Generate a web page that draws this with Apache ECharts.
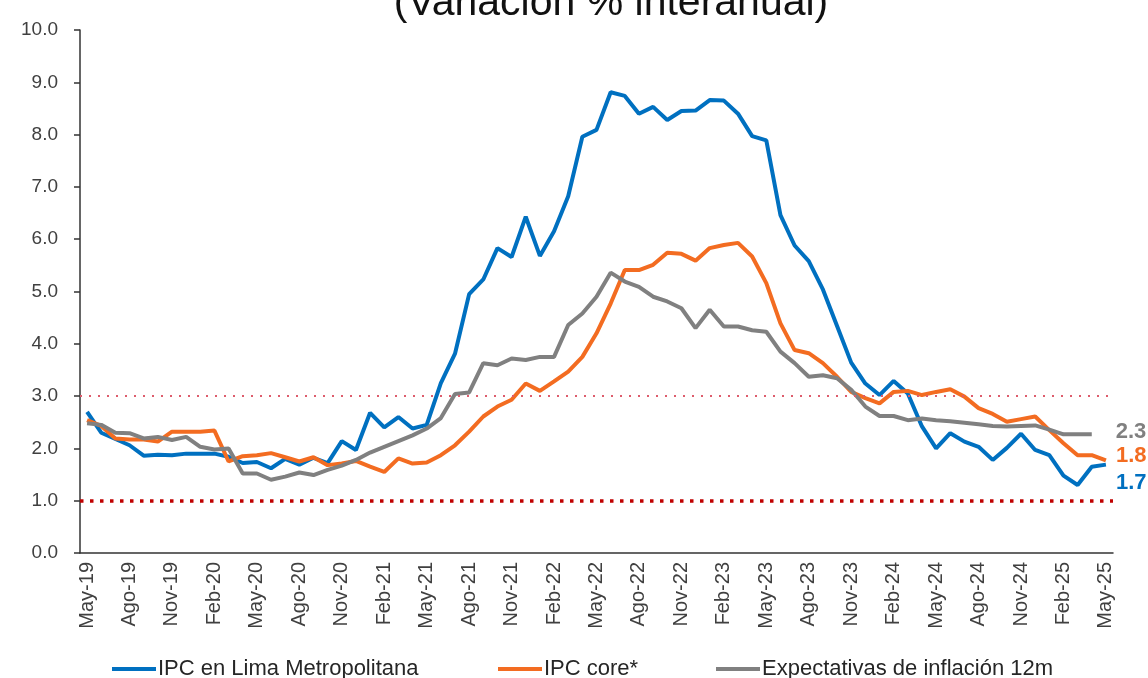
<!DOCTYPE html>
<html>
<head>
<meta charset="utf-8">
<script src="https://cdn.jsdelivr.net/npm/echarts@6/dist/echarts.min.js"></script>
<style>
  html, body { margin: 0; padding: 0; background: #fff; }
  #chart { width: 1148px; height: 678px; }
</style>
</head>
<body>
<div id="chart"></div>
<script>
// meses May-19 ... May-25
const meses = [
  "May-19", "Jun-19", "Jul-19", "Ago-19", "Set-19", "Oct-19", "Nov-19", "Dic-19",
  "Ene-20", "Feb-20", "Mar-20", "Abr-20", "May-20", "Jun-20", "Jul-20", "Ago-20", "Set-20", "Oct-20", "Nov-20", "Dic-20",
  "Ene-21", "Feb-21", "Mar-21", "Abr-21", "May-21", "Jun-21", "Jul-21", "Ago-21", "Set-21", "Oct-21", "Nov-21", "Dic-21",
  "Ene-22", "Feb-22", "Mar-22", "Abr-22", "May-22", "Jun-22", "Jul-22", "Ago-22", "Set-22", "Oct-22", "Nov-22", "Dic-22",
  "Ene-23", "Feb-23", "Mar-23", "Abr-23", "May-23", "Jun-23", "Jul-23", "Ago-23", "Set-23", "Oct-23", "Nov-23", "Dic-23",
  "Ene-24", "Feb-24", "Mar-24", "Abr-24", "May-24", "Jun-24", "Jul-24", "Ago-24", "Set-24", "Oct-24", "Nov-24", "Dic-24",
  "Ene-25", "Feb-25", "Mar-25", "Abr-25", "May-25"
];

const ipcLima = [
  2.70, 2.30, 2.18, 2.06, 1.86, 1.88, 1.87, 1.90,
  1.90, 1.90, 1.84, 1.72, 1.74, 1.62, 1.80, 1.69, 1.82, 1.72, 2.14, 1.97,
  2.68, 2.40, 2.60, 2.38, 2.45, 3.25, 3.81, 4.95, 5.23, 5.83, 5.66, 6.43,
  5.68, 6.15, 6.82, 7.96, 8.09, 8.81, 8.74, 8.40, 8.53, 8.28, 8.45, 8.46,
  8.66, 8.65, 8.40, 7.97, 7.89, 6.46, 5.88, 5.58, 5.04, 4.34, 3.64, 3.24,
  3.02, 3.29, 3.05, 2.42, 2.00, 2.29, 2.13, 2.03, 1.78, 2.01, 2.28, 1.97,
  1.87, 1.48, 1.30, 1.65, 1.69
];

const ipcCore = [
  2.54, 2.43, 2.19, 2.17, 2.17, 2.13, 2.32, 2.32,
  2.32, 2.34, 1.75, 1.85, 1.87, 1.91, 1.83, 1.75, 1.83, 1.68, 1.71, 1.76,
  1.65, 1.55, 1.81, 1.71, 1.73, 1.87, 2.06, 2.32, 2.61, 2.80, 2.93, 3.24,
  3.10, 3.28, 3.47, 3.75, 4.20, 4.77, 5.41, 5.41, 5.51, 5.74, 5.72, 5.59,
  5.83, 5.89, 5.93, 5.67, 5.16, 4.39, 3.88, 3.82, 3.63, 3.37, 3.08, 2.96,
  2.86, 3.08, 3.10, 3.02, 3.08, 3.13, 2.99, 2.77, 2.66, 2.51, 2.56, 2.61,
  2.35, 2.10, 1.87, 1.87, 1.77
];

const expectativas = [
  2.48, 2.45, 2.30, 2.29, 2.19, 2.22, 2.16, 2.22,
  2.03, 1.98, 2.00, 1.52, 1.52, 1.40, 1.46, 1.54, 1.49, 1.59, 1.67, 1.78,
  1.92, 2.03, 2.14, 2.25, 2.38, 2.58, 3.04, 3.07, 3.63, 3.59, 3.72, 3.69,
  3.75, 3.75, 4.36, 4.58, 4.90, 5.36, 5.19, 5.09, 4.90, 4.81, 4.68, 4.30,
  4.65, 4.33, 4.33, 4.26, 4.23, 3.85, 3.63, 3.37, 3.40, 3.34, 3.12, 2.80,
  2.62, 2.62, 2.54, 2.57, 2.54, 2.52, 2.49, 2.46, 2.43, 2.42, 2.43, 2.44,
  2.36, 2.27, 2.27, 2.27, null
];

// rango meta de inflación
const rangoMeta = [1, 3];

const nombres = ["IPC en Lima Metropolitana", "IPC core*", "Expectativas de inflación 12m"];
const colores = ["#0070C0", "#F36C21", "#808080"];

const chart = echarts.init(document.getElementById("chart"));

function serie(i, data, offset) {
  return {
    name: nombres[i],
    type: "line",
    data: data,
    symbol: "none",
    connectNulls: false,
    lineStyle: { color: colores[i], width: 4 },
    itemStyle: { color: colores[i] },
    endLabel: {
      show: true,
      offset: offset,
      color: colores[i],
      fontSize: 22,
      fontWeight: "bold",
      fontFamily: "Liberation Sans",
      formatter: (p) => Number(p.value).toFixed(1),
    },
  };
}

const series = [
  serie(0, ipcLima, [2, 18]),
  serie(1, ipcCore, [2, -4]),
  serie(2, expectativas, [16, -2]),
];

series[0].markLine = {
  silent: true,
  symbol: "none",
  label: { show: false },
  data: [
    { yAxis: rangoMeta[1], lineStyle: { color: "#DD5C6C", width: 2, type: [2, 7] } },
    { yAxis: rangoMeta[0], lineStyle: { color: "#C00000", width: 3.5, type: [3.5, 6.5] } },
  ],
};

function legenda(i, left) {
  return {
    data: [nombres[i]],
    left: left,
    top: 652,
    icon: "rect",
    itemWidth: 44,
    itemHeight: 4,
    itemGap: 0,
    textStyle: {
      fontSize: 22,
      lineHeight: 24,
      color: "#262626",
      fontFamily: "Liberation Sans",
      padding: [0, 0, 0, -3],
    },
  };
}

chart.setOption({
  animation: false,
  title: {
    text: "(Variación % interanual)",
    left: 606,
    top: -22,
    textAlign: "center",
    textStyle: {
      fontSize: 41,
      lineHeight: 41,
      fontWeight: "normal",
      color: "#111",
      fontFamily: "Liberation Sans",
    },
  },
  legend: [legenda(0, 107), legenda(1, 493), legenda(2, 711)],
  grid: {
    left: 80,
    right: 35,
    top: 30,
    bottom: 125,
  },
  xAxis: {
    type: "category",
    data: meses,
    boundaryGap: true,
    axisLine: { lineStyle: { color: "#333", width: 1.5 } },
    axisTick: { interval: 2, length: 6, lineStyle: { color: "#333", width: 1.5 } },
    axisLabel: {
      interval: 2,
      rotate: 90,
      margin: 9,
      fontSize: 20,
      color: "#404040",
      fontFamily: "Liberation Sans",
    },
  },
  yAxis: {
    type: "value",
    min: 0,
    max: 10,
    interval: 1,
    splitLine: { show: false },
    axisLine: { show: true, lineStyle: { color: "#333", width: 1.5 } },
    axisTick: { show: true, length: 6, lineStyle: { color: "#333", width: 1.5 } },
    axisLabel: {
      margin: 22,
      fontSize: 19,
      color: "#404040",
      fontFamily: "Liberation Sans",
      formatter: (v) => v.toFixed(1),
    },
  },
  series: series,
});
</script>
</body>
</html>
